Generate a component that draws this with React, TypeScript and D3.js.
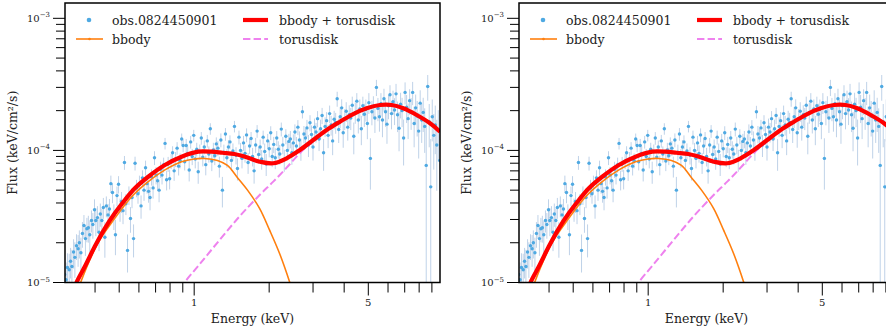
import React from 'react';
import * as d3 from 'd3';

// Observed spectrum: energy (keV), flux in units of 1e-5 keV/cm^2/s, fractional error
const energyKeV = [
  0.302, 0.306, 0.310, 0.315, 0.319, 0.323, 0.328, 0.332, 0.337, 0.342,
  0.346, 0.351, 0.356, 0.361, 0.366, 0.371, 0.376, 0.381, 0.387, 0.392,
  0.398, 0.403, 0.409, 0.415, 0.420, 0.426, 0.432, 0.438, 0.444, 0.451,
  0.457, 0.463, 0.470, 0.476, 0.483, 0.490, 0.497, 0.504, 0.511, 0.518,
  0.525, 0.532, 0.540, 0.547, 0.555, 0.563, 0.571, 0.579, 0.587, 0.595,
  0.603, 0.612, 0.620, 0.629, 0.638, 0.647, 0.656, 0.665, 0.674, 0.684,
  0.693, 0.703, 0.713, 0.723, 0.733, 0.743, 0.754, 0.764, 0.775, 0.786,
  0.797, 0.808, 0.819, 0.831, 0.842, 0.854, 0.866, 0.878, 0.891, 0.903,
  0.916, 0.929, 0.942, 0.955, 0.968, 0.982, 0.996, 1.010, 1.024, 1.038,
  1.053, 1.068, 1.083, 1.098, 1.113, 1.129, 1.145, 1.161, 1.177, 1.194,
  1.210, 1.227, 1.245, 1.262, 1.280, 1.298, 1.316, 1.335, 1.353, 1.372,
  1.392, 1.411, 1.431, 1.451, 1.472, 1.492, 1.513, 1.535, 1.556, 1.578,
  1.600, 1.623, 1.646, 1.669, 1.692, 1.716, 1.740, 1.765, 1.789, 1.815,
  1.840, 1.866, 1.892, 1.919, 1.946, 1.973, 2.001, 2.029, 2.057, 2.086,
  2.116, 2.145, 2.176, 2.206, 2.237, 2.269, 2.300, 2.333, 2.366, 2.399,
  2.433, 2.467, 2.501, 2.537, 2.572, 2.608, 2.645, 2.682, 2.720, 2.758,
  2.797, 2.836, 2.876, 2.917, 2.958, 2.999, 3.041, 3.084, 3.128, 3.172,
  3.216, 3.262, 3.307, 3.354, 3.401, 3.449, 3.497, 3.546, 3.596, 3.647,
  3.698, 3.750, 3.803, 3.856, 3.910, 3.965, 4.021, 4.077, 4.135, 4.193,
  4.252, 4.311, 4.372, 4.433, 4.496, 4.559, 4.623, 4.688, 4.754, 4.820,
  4.888, 4.957, 5.026, 5.097, 5.169, 5.241, 5.315, 5.389, 5.465, 5.542,
  5.620, 5.699, 5.779, 5.860, 5.942, 6.026, 6.110, 6.196, 6.283, 6.372,
  6.461, 6.552, 6.644, 6.737, 6.832, 6.928, 7.025, 7.124, 7.224, 7.325,
  7.428, 7.533, 7.638, 7.746, 7.855, 7.965, 8.077, 8.190, 8.305, 8.422,
  8.540, 8.660, 8.782, 8.905, 9.030, 9.157, 9.286, 9.416, 9.548, 9.682,
];

const fluxE5 = [
  1.15, 1.05, 1.30, 1.25, 1.45, 1.32, 1.70, 1.55, 1.90, 1.80,
  2.00, 1.68, 2.35, 2.70, 2.15, 2.55, 2.60, 2.30, 2.95, 2.75,
  3.55, 2.95, 3.10, 2.40, 3.30, 2.95, 3.70, 2.20, 3.80, 3.25,
  3.60, 5.60, 4.80, 3.20, 2.30, 4.55, 5.55, 3.60, 4.10, 3.50,
  8.10, 3.95, 1.75, 4.60, 3.05, 4.40, 2.15, 8.00, 5.20, 4.70,
  5.60, 3.80, 6.20, 5.00, 7.40, 5.60, 4.90, 4.40, 6.30, 5.20,
  8.80, 6.50, 5.90, 5.00, 7.20, 6.50, 7.80, 11.3, 6.00, 7.90,
  6.10, 8.30, 9.60, 7.00, 8.60, 10.4, 7.60, 8.40, 12.2, 10.9,
  8.2, 10.9, 9.5, 7.1, 11.6, 9.0, 13.0, 8.6, 10.2, 6.9,
  9.8, 12.4, 8.9, 10.6, 7.8, 11.8, 9.4, 14.6, 8.3, 10.1,
  9.1, 11.2, 10.4, 7.6, 12.0, 5.0, 9.7, 13.3, 8.8, 10.6,
  11.6, 8.4, 9.9, 15.2, 9.2, 7.3, 12.6, 10.0, 8.7, 11.4,
  9.5, 13.1, 8.1, 10.8, 12.3, 9.0, 7.0, 11.0, 14.0, 9.3,
  10.6, 8.6, 12.6, 9.8, 7.9, 11.8, 10.3, 13.6, 9.0, 11.1,
  8.8, 12.4, 10.2, 9.4, 14.5, 11.0, 8.5, 12.8, 10.0, 11.7,
  12.2, 9.6, 11.4, 13.8, 10.8, 15.0, 12.0, 10.3, 19.6, 13.3,
  12.4, 14.8, 11.0, 16.2, 13.2, 10.6, 15.0, 13.8, 17.4, 12.2,
  14.6, 18.4, 9.6, 15.2, 16.8, 13.0, 19.0, 15.6, 11.8, 17.2,
  16.3, 24.6, 14.4, 18.0, 21.0, 13.6, 17.4, 19.8, 15.0, 18.6,
  17.6, 22.0, 12.8, 19.4, 23.6, 17.0, 20.6, 14.6, 21.8, 18.8,
  20.4, 16.0, 23.0, 8.7, 19.6, 21.6, 17.6, 30.0, 20.8, 18.0,
  22.6, 17.0, 24.6, 19.6, 15.8, 21.8, 26.4, 19.0, 23.4, 20.2,
  26.8, 18.6, 14.7, 22.4, 20.0, 12.4, 27.5, 21.2, 17.4, 23.8,
  19.6, 27.5, 16.0, 21.0, 18.2, 14.0, 22.8, 17.0, 19.4, 15.2,
  7.7, 30.5, 16.5, 5.3, 18.0, 13.0, 15.6, 11.0, 14.2, 8.4,
];

const errFrac = [
  0.30, 0.35, 0.28, 0.32, 0.26, 0.34, 0.25, 0.30, 0.22, 0.27,
  0.24, 0.30, 0.22, 0.20, 0.26, 0.21, 0.23, 0.27, 0.19, 0.22,
  0.20, 0.24, 0.22, 0.28, 0.20, 0.23, 0.18, 0.30, 0.18, 0.21,
  0.19, 0.15, 0.17, 0.22, 0.30, 0.17, 0.15, 0.20, 0.18, 0.21,
  0.12, 0.18, 0.32, 0.16, 0.22, 0.17, 0.28, 0.12, 0.15, 0.16,
  0.15, 0.20, 0.14, 0.17, 0.13, 0.16, 0.18, 0.20, 0.14, 0.17,
  0.12, 0.15, 0.16, 0.19, 0.14, 0.15, 0.13, 0.10, 0.17, 0.13,
  0.17, 0.13, 0.12, 0.16, 0.13, 0.11, 0.15, 0.13, 0.10, 0.11,
  0.14, 0.12, 0.13, 0.18, 0.11, 0.14, 0.10, 0.15, 0.12, 0.19,
  0.13, 0.11, 0.15, 0.12, 0.17, 0.11, 0.14, 0.10, 0.16, 0.13,
  0.15, 0.12, 0.13, 0.18, 0.12, 0.26, 0.14, 0.11, 0.16, 0.13,
  0.12, 0.17, 0.14, 0.10, 0.15, 0.19, 0.12, 0.14, 0.16, 0.13,
  0.15, 0.12, 0.18, 0.13, 0.12, 0.16, 0.20, 0.13, 0.11, 0.15,
  0.14, 0.17, 0.12, 0.15, 0.19, 0.13, 0.14, 0.12, 0.17, 0.14,
  0.18, 0.13, 0.15, 0.17, 0.12, 0.15, 0.19, 0.13, 0.16, 0.14,
  0.15, 0.19, 0.16, 0.14, 0.17, 0.13, 0.16, 0.19, 0.11, 0.15,
  0.17, 0.15, 0.19, 0.14, 0.17, 0.21, 0.16, 0.17, 0.14, 0.19,
  0.17, 0.14, 0.27, 0.17, 0.16, 0.20, 0.15, 0.17, 0.22, 0.16,
  0.18, 0.13, 0.21, 0.18, 0.16, 0.23, 0.18, 0.17, 0.21, 0.18,
  0.19, 0.16, 0.27, 0.18, 0.15, 0.21, 0.18, 0.25, 0.17, 0.20,
  0.19, 0.24, 0.18, 0.42, 0.21, 0.19, 0.23, 0.14, 0.20, 0.23,
  0.20, 0.26, 0.19, 0.23, 0.29, 0.21, 0.18, 0.24, 0.21, 0.23,
  0.19, 0.26, 0.33, 0.22, 0.25, 0.38, 0.19, 0.24, 0.30, 0.22,
  0.27, 0.20, 0.34, 0.26, 0.30, 0.38, 0.25, 0.33, 0.29, 0.37,
  1.20, 0.22, 0.36, 1.30, 0.35, 0.45, 0.40, 0.55, 0.42, 0.75,
];

// Model curves (energy keV, flux in 1e-5 keV/cm^2/s)
const totalE = [0.32, 0.337, 0.364, 0.399, 0.438, 0.480, 0.527, 0.578, 0.654, 0.763, 0.890, 1.038, 1.174, 1.30, 1.45, 1.60, 1.836, 2.077, 2.350, 2.658, 3.006, 3.402, 3.847, 4.351, 4.924, 5.569, 6.206, 6.909, 7.82, 8.845, 9.70];
const totalF = [0.78, 1.00, 1.32, 1.87, 2.57, 3.34, 4.21, 5.17, 6.32, 7.75, 8.96, 9.78, 9.78, 9.6, 9.40, 8.95, 8.21, 7.99, 8.71, 10.07, 11.99, 14.27, 16.49, 18.86, 20.83, 22.07, 22.07, 20.83, 18.53, 16.04, 13.85];

const bbodyE = [0.335, 0.350, 0.41, 0.48, 0.561, 0.654, 0.763, 0.890, 1.00, 1.10, 1.24, 1.36, 1.49, 1.64, 1.83, 2.01, 2.21, 2.42, 2.55];
const bbodyF = [0.78, 1.00, 1.98, 3.06, 4.46, 5.80, 7.12, 8.21, 8.62, 8.69, 8.39, 7.69, 6.24, 4.98, 3.64, 2.48, 1.63, 1.00, 0.72];

const torusE = [0.88, 0.914, 1.05, 1.26, 1.52, 1.836, 2.077, 2.35, 2.658, 3.006, 3.402, 3.847, 4.351, 4.924, 5.569, 6.206, 6.909, 7.82, 8.845, 9.70];
const torusF = [0.90, 1.00, 1.37, 2.08, 3.16, 4.62, 5.80, 7.40, 9.55, 11.8, 14.2, 16.45, 18.85, 20.83, 22.07, 22.07, 20.83, 18.53, 16.04, 13.85];

const xLabelTicks = [1, 5];
const xMinorTicks = [0.4, 0.5, 0.6, 0.7, 0.8, 0.9, 2, 3, 4, 6, 7, 8, 9];
const yMajorExps = [-3, -4, -5];
const yMinorMult = [2, 3, 4, 5, 6, 7, 8, 9];

const legendItems = ['obs.0824450901', 'bbody', 'bbody + torusdisk', 'torusdisk'];

const FONT = '"DejaVu Serif", serif';
const UNIT = 1e-5;

const L = 65, R = 440, T = 3, B = 282.5;

function Panel({ dx, id }: { dx: number; id: string }) {
  const x = d3.scaleLog().domain([0.303, 9.7]).range([L, R]);
  const y = d3.scaleLog().domain([1e-5, 1.306e-3]).range([B, T]);

  const line = d3
    .line<[number, number]>()
    .x((d) => x(d[0]))
    .y((d) => y(d[1] * UNIT))
    .curve(d3.curveCatmullRom.alpha(0.5));

  const zip = (a: number[], b: number[]) => a.map((v, i) => [v, b[i]] as [number, number]);

  const yMinors: number[] = [];
  [-5, -4, -3].forEach((e) =>
    yMinorMult.forEach((m) => {
      const v = m * Math.pow(10, e);
      if (v > 1e-5 && v < 1.306e-3) yMinors.push(v);
    })
  );

  return (
    <g transform={`translate(${dx},0)`}>
      <defs>
        <clipPath id={`clip-${id}`}>
          <rect x={L} y={T} width={R - L} height={B - T} />
        </clipPath>
      </defs>
      <g clipPath={`url(#clip-${id})`}>
        {energyKeV.map((e, i) => {
          const f = fluxE5[i] * UNIT;
          const lo = f * (1 - errFrac[i]);
          const hi = f * (1 + errFrac[i]);
          const yLo = lo <= 0 ? B + 5 : y(lo);
          return (
            <line
              key={`e${i}`}
              x1={x(e)}
              x2={x(e)}
              y1={yLo}
              y2={y(hi)}
              stroke="#9dbadb"
              strokeOpacity={0.65}
              strokeWidth={1}
            />
          );
        })}
        {energyKeV.map((e, i) => (
          <circle key={`p${i}`} cx={x(e)} cy={y(fluxE5[i] * UNIT)} r={1.7} fill="#4ea9e2" />
        ))}
        <path d={line(zip(bbodyE, bbodyF)) || ''} fill="none" stroke="#ff7f0e" strokeWidth={1.6} />
        <path
          d={line(zip(torusE, torusF)) || ''}
          fill="none"
          stroke="#ee82ee"
          strokeWidth={2}
          strokeDasharray="7.4,3.2"
        />
        <path d={line(zip(totalE, totalF)) || ''} fill="none" stroke="#ff0000" strokeWidth={4.2} strokeLinejoin="round" />
      </g>

      {/* x ticks */}
      {xMinorTicks.map((t) => (
        <line key={`xm${t}`} x1={x(t)} x2={x(t)} y1={B} y2={B + 10} stroke="#000" strokeWidth={1} />
      ))}
      {xLabelTicks.map((t) => (
        <g key={`xl${t}`}>
          <line x1={x(t)} x2={x(t)} y1={B} y2={B + 13} stroke="#000" strokeWidth={1} />
          <text x={x(t)} y={306} textAnchor="middle" fontFamily={FONT} fontSize={10} fill="#222">
            {t}
          </text>
        </g>
      ))}
      {/* y ticks */}
      {yMinors.map((v) => (
        <line key={`ym${v}`} x1={L - 9} x2={L} y1={y(v)} y2={y(v)} stroke="#000" strokeWidth={1} />
      ))}
      {yMajorExps.map((ex) => (
        <g key={`yM${ex}`}>
          <line x1={L - 12} x2={L} y1={y(Math.pow(10, ex))} y2={y(Math.pow(10, ex))} stroke="#000" strokeWidth={1} />
          <text x={50} y={y(Math.pow(10, ex)) + 3.5} textAnchor="end" fontFamily={FONT} fontSize={10} fill="#222">
            10
            <tspan fontSize={7} dy={-4.5}>
              {`\u2212${Math.abs(ex)}`}
            </tspan>
          </text>
        </g>
      ))}

      <rect x={L} y={T} width={R - L} height={B - T} fill="none" stroke="#000" strokeWidth={1.5} />

      {/* axis labels */}
      <text x={(L + R) / 2} y={323} textAnchor="middle" fontFamily={FONT} fontSize={12.5} fill="#222">
        Energy (keV)
      </text>
      <text
        transform={`translate(17,${(T + B) / 2}) rotate(-90)`}
        textAnchor="middle"
        fontFamily={FONT}
        fontSize={12.5}
        fill="#222"
      >
        Flux (keV/cm²/s)
      </text>

      {/* legend */}
      <g fontFamily={FONT} fontSize={12.5} fill="#222">
        <circle cx={89} cy={20} r={2.3} fill="#4ea9e2" />
        <text x={112} y={24.5}>{legendItems[0]}</text>
        <line x1={76} x2={103} y1={39} y2={39} stroke="#ff7f0e" strokeWidth={1.6} />
        <circle cx={89.5} cy={39} r={1.3} fill="#ff7f0e" />
        <text x={112} y={43.5}>{legendItems[1]}</text>
        <line x1={243} x2={268} y1={20} y2={20} stroke="#ff0000" strokeWidth={4.2} />
        <text x={279} y={24.5}>{legendItems[2]}</text>
        <line x1={243} x2={268} y1={39} y2={39} stroke="#ee82ee" strokeWidth={2} strokeDasharray="7.4,3.2" />
        <text x={279} y={43.5}>{legendItems[3]}</text>
      </g>
    </g>
  );
}

export default function App() {
  return (
    <svg
      width={886}
      height={334}
      style={{ position: 'absolute', left: 0, top: 0, background: '#fff', display: 'block' }}
    >
      <rect x={0} y={0} width={886} height={334} fill="#fff" />
      <Panel dx={0} id="a" />
      <Panel dx={454} id="b" />
    </svg>
  );
}
